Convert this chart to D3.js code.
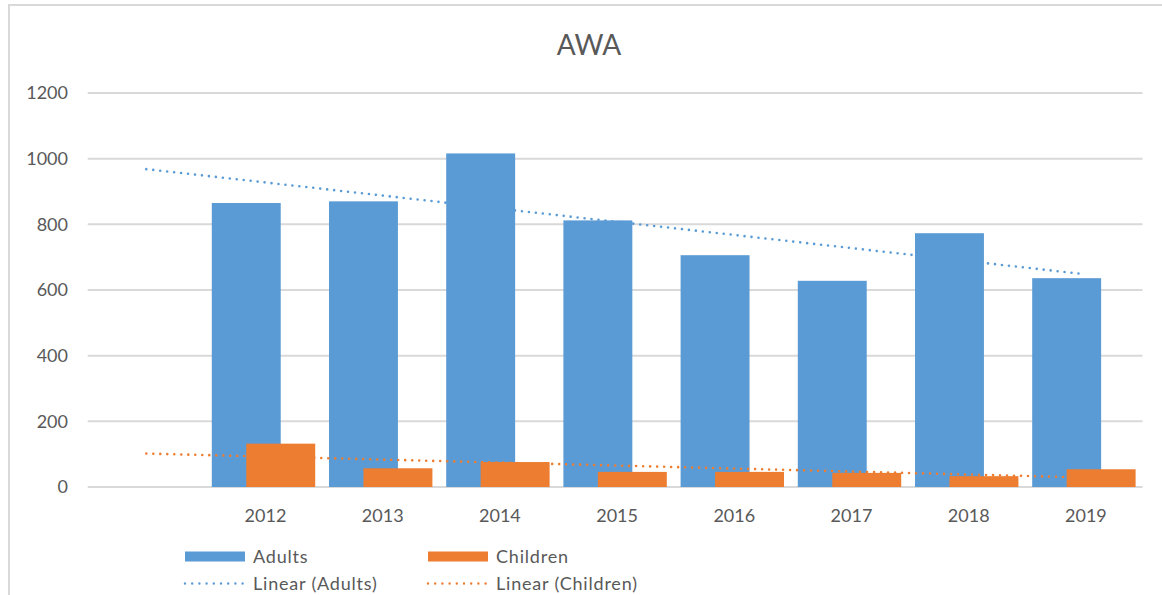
<!DOCTYPE html>
<html>
<head>
<meta charset="utf-8">
<script src="https://cdn.jsdelivr.net/npm/d3@7"></script>
<style>
  body { margin: 0; background: #fff; }
  text { font-family: Lato, "Open Sans", sans-serif; fill: #595959; }
</style>
</head>
<body>
<div id="chart"></div>
<script>
// first category is blank in the source sheet, so the series start in slot 2
var categories = ["", "2012", "2013", "2014", "2015", "2016", "2017", "2018", "2019"];
var adults = [null, 865, 870, 1016, 812, 706, 628, 773, 636];
var children = [null, 132, 57, 76, 46, 46, 43, 33, 54];
var yTicks = [0, 200, 400, 600, 800, 1000, 1200];

var width = 1162, height = 595;
var blue = "#5b9bd5", orange = "#ed7d31";

var svg = d3.select("#chart").append("svg")
  .attr("width", width)
  .attr("height", height);

// chart border
svg.append("path")
  .attr("d", "M9," + height + "V5H" + width)
  .attr("fill", "none")
  .attr("stroke", "#d9d9d9")
  .attr("stroke-width", 2);

var x = d3.scaleBand()
  .domain(categories)
  .range([87.7, 1142.5]);

var y = d3.scaleLinear()
  .domain([0, 1200])
  .range([487, 93]);

// bar width: gap 20%, overlap 50%
var barW = x.bandwidth() / 1.7;
var gap = 0.1 * barW;

svg.append("text")
  .attr("x", 589)
  .attr("y", 55)
  .attr("text-anchor", "middle")
  .style("font-size", "28px")
  .text("AWA");

// gridlines
svg.append("g")
  .selectAll("line")
  .data(yTicks)
  .enter()
  .append("line")
  .attr("x1", x.range()[0])
  .attr("x2", x.range()[1])
  .attr("y1", function(d) { return y(d); })
  .attr("y2", function(d) { return y(d); })
  .attr("stroke", "#d9d9d9")
  .attr("stroke-width", 2);

svg.append("g")
  .selectAll("text")
  .data(yTicks)
  .enter()
  .append("text")
  .attr("x", 68)
  .attr("y", function(d) { return y(d); })
  .attr("dy", "0.36em")
  .attr("text-anchor", "end")
  .style("font-size", "18px")
  .text(function(d) { return d; });

svg.append("g")
  .selectAll("text")
  .data(categories)
  .enter()
  .append("text")
  .attr("x", function(d) { return x(d) + x.bandwidth() / 2 + 2; })
  .attr("y", 521.5)
  .attr("text-anchor", "middle")
  .style("font-size", "18px")
  .text(function(d) { return d; });

function drawBars(values, offset, color) {
  svg.append("g")
    .selectAll("rect")
    .data(categories.map(function(c, i) { return { c: c, v: values[i] }; })
      .filter(function(d) { return d.v != null; }))
    .enter()
    .append("rect")
    .attr("x", function(d) { return x(d.c) + gap + offset; })
    .attr("width", barW)
    .attr("y", function(d) { return y(d.v); })
    .attr("height", function(d) { return y(0) - y(d.v); })
    .attr("fill", color);
}

drawBars(adults, 0, blue);
drawBars(children, barW / 2, orange);

// linear trendline (least squares on category index), drawn across all slots
function trend(values) {
  var pts = [];
  values.forEach(function(v, i) { if (v != null) pts.push([i + 1, v]); });
  var mx = d3.mean(pts, function(p) { return p[0]; });
  var my = d3.mean(pts, function(p) { return p[1]; });
  var sxy = d3.sum(pts, function(p) { return (p[0] - mx) * (p[1] - my); });
  var sxx = d3.sum(pts, function(p) { return (p[0] - mx) * (p[0] - mx); });
  var b = sxy / sxx, a = my - b * mx;
  return [1, categories.length].map(function(i) { return [i, a + b * i]; });
}

var line = d3.line()
  .x(function(d) { return x(categories[d[0] - 1]) + x.bandwidth() / 2; })
  .y(function(d) { return y(d[1]); });

[[adults, blue], [children, orange]].forEach(function(s) {
  svg.append("path")
    .attr("d", line(trend(s[0])))
    .attr("fill", "none")
    .attr("stroke", s[1])
    .attr("stroke-width", 2.6)
    .attr("stroke-linecap", "round")
    .attr("stroke-dasharray", "0 7");
});

// legend
var legend = [
  { label: "Adults", color: blue, type: "bar", x: 185, y: 556.5 },
  { label: "Children", color: orange, type: "bar", x: 428, y: 556.5 },
  { label: "Linear (Adults)", color: blue, type: "line", x: 185, y: 583.5 },
  { label: "Linear (Children)", color: orange, type: "line", x: 428, y: 583.5 }
];

var lg = svg.append("g").selectAll("g")
  .data(legend)
  .enter()
  .append("g")
  .attr("transform", function(d) { return "translate(" + d.x + "," + d.y + ")"; });

lg.filter(function(d) { return d.type == "bar"; })
  .append("rect")
  .attr("x", 0)
  .attr("y", -5)
  .attr("width", 60)
  .attr("height", 10)
  .attr("fill", function(d) { return d.color; });

lg.filter(function(d) { return d.type == "line"; })
  .append("line")
  .attr("x1", 0)
  .attr("x2", 58)
  .attr("stroke", function(d) { return d.color; })
  .attr("stroke-width", 2.4)
  .attr("stroke-linecap", "round")
  .attr("stroke-dasharray", "0 7.2");

lg.append("text")
  .attr("x", 68)
  .attr("dy", "0.36em")
  .style("font-size", "18px")
  .style("letter-spacing", "0.8px")
  .text(function(d) { return d.label; });
</script>
</body>
</html>
